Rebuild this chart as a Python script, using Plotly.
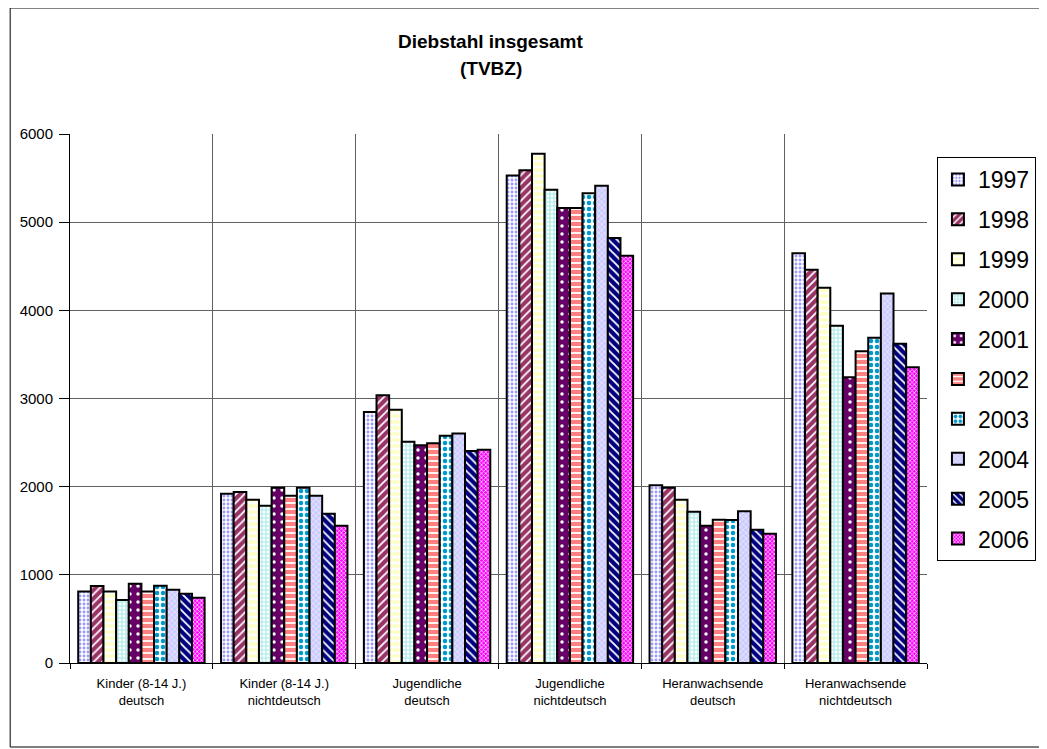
import plotly.graph_objects as go

categories = [
    "Kinder (8-14 J.)<br>deutsch",
    "Kinder (8-14 J.)<br>nichtdeutsch",
    "Jugendliche<br>deutsch",
    "Jugendliche<br>nichtdeutsch",
    "Heranwachsende<br>deutsch",
    "Heranwachsende<br>nichtdeutsch",
]
years = ["1997", "1998", "1999", "2000", "2001", "2002", "2003", "2004", "2005", "2006"]

v1997 = [810, 1920, 2846, 5530, 2015, 4647]
v1998 = [873, 1940, 3036, 5590, 1988, 4461]
v1999 = [810, 1852, 2873, 5776, 1852, 4257]
v2000 = [714, 1784, 2510, 5368, 1716, 3826]
v2001 = [900, 1988, 2469, 5160, 1557, 3240]
v2002 = [810, 1897, 2492, 5160, 1625, 3535]
v2003 = [877, 1988, 2578, 5327, 1622, 3690]
v2004 = [832, 1897, 2604, 5413, 1720, 4190]
v2005 = [786, 1693, 2404, 4820, 1512, 3621]
v2006 = [741, 1557, 2419, 4620, 1467, 3354]
series = [v1997, v1998, v1999, v2000, v2001, v2002, v2003, v2004, v2005, v2006]

title_lines = ["Diebstahl insgesamt", "(TVBZ)"]

styles = [
    dict(bg="#FFFFFF", fg="#9999FF", shape=".", size=4, sol=0.4),
    dict(bg="#993366", fg="#FFFFFF", shape="/", size=6, sol=0.3),
    dict(bg="#FFFFCC", fg="#FFFFFF", shape="-", size=6, sol=0.4),
    dict(bg="#B8EEEE", fg="#FFFFFF", shape=".", size=4, sol=0.4),
    dict(bg="#660066", fg="#FFFFFF", shape=".", size=8, sol=0.15),
    dict(bg="#FF8080", fg="#FFFFFF", shape="-", size=6, sol=0.3),
    dict(bg="#FFFFFF", fg="#0099CC", shape=".", size=6, sol=0.45),
    dict(bg="#CCCCFF", fg="#EEEEFF", shape="x", size=4, sol=0.3),
    dict(bg="#000080", fg="#FFFFFF", shape="\\", size=6, sol=0.3),
    dict(bg="#FF00FF", fg="#FFFFFF", shape="x", size=3, sol=0.4),
]

fig = go.Figure()
for yr, vals, st in zip(years, series, styles):
    fig.add_trace(go.Bar(
        name=yr, x=categories, y=vals,
        legendgroup=yr,
        marker=dict(
            color=st["bg"],
            line=dict(color="black", width=2),
            pattern=dict(shape=st["shape"], bgcolor=st["bg"], fgcolor=st["fg"],
                         size=st["size"], solidity=st["sol"], fillmode="replace"),
        ),
    ))

fig.update_layout(
    width=1047, height=749,
    margin=dict(l=60, r=128, t=126, b=94),
    paper_bgcolor="white", plot_bgcolor="white",
    barmode="group", bargap=0.115, bargroupgap=0,
    font=dict(family="Liberation Sans, Arial, sans-serif", color="black"),
    legend=dict(
        x=1.0116, xanchor="left", y=0.9565, yanchor="top",
        bordercolor="black", borderwidth=1,
        font=dict(size=23), tracegroupgap=7,
        traceorder="grouped", itemwidth=30,
    ),
    showlegend=True,
)
fig.add_annotation(text="<b>%s</b>" % title_lines[0], xref="paper", yref="paper",
                   x=0.491, y=1.174, xanchor="center", yanchor="middle",
                   showarrow=False, font=dict(size=19))
fig.add_annotation(text="<b>%s</b>" % title_lines[1], xref="paper", yref="paper",
                   x=0.491, y=1.123, xanchor="center", yanchor="middle",
                   showarrow=False, font=dict(size=19))

fig.update_xaxes(
    tickson="boundaries", showgrid=True, gridcolor="#606060", gridwidth=1,
    ticks="outside", ticklen=5, tickcolor="black",
    showline=True, linecolor="black", linewidth=1,
    tickfont=dict(size=13), ticklabelstandoff=8,
)
fig.update_yaxes(
    range=[0, 6000], dtick=1000, showgrid=True, gridcolor="#606060", gridwidth=1,
    ticks="outside", ticklen=10, tickcolor="black",
    showline=True, linecolor="black", linewidth=1,
    tickfont=dict(size=15), zeroline=False, ticklabelstandoff=3,
)

fig.add_shape(type="rect", xref="paper", yref="paper",
              x0=-0.0698, x1=1.1374, y0=-0.1588, y1=1.2382,
              line=dict(color="black", width=1), layer="below")

fig.write_html("out.html")
